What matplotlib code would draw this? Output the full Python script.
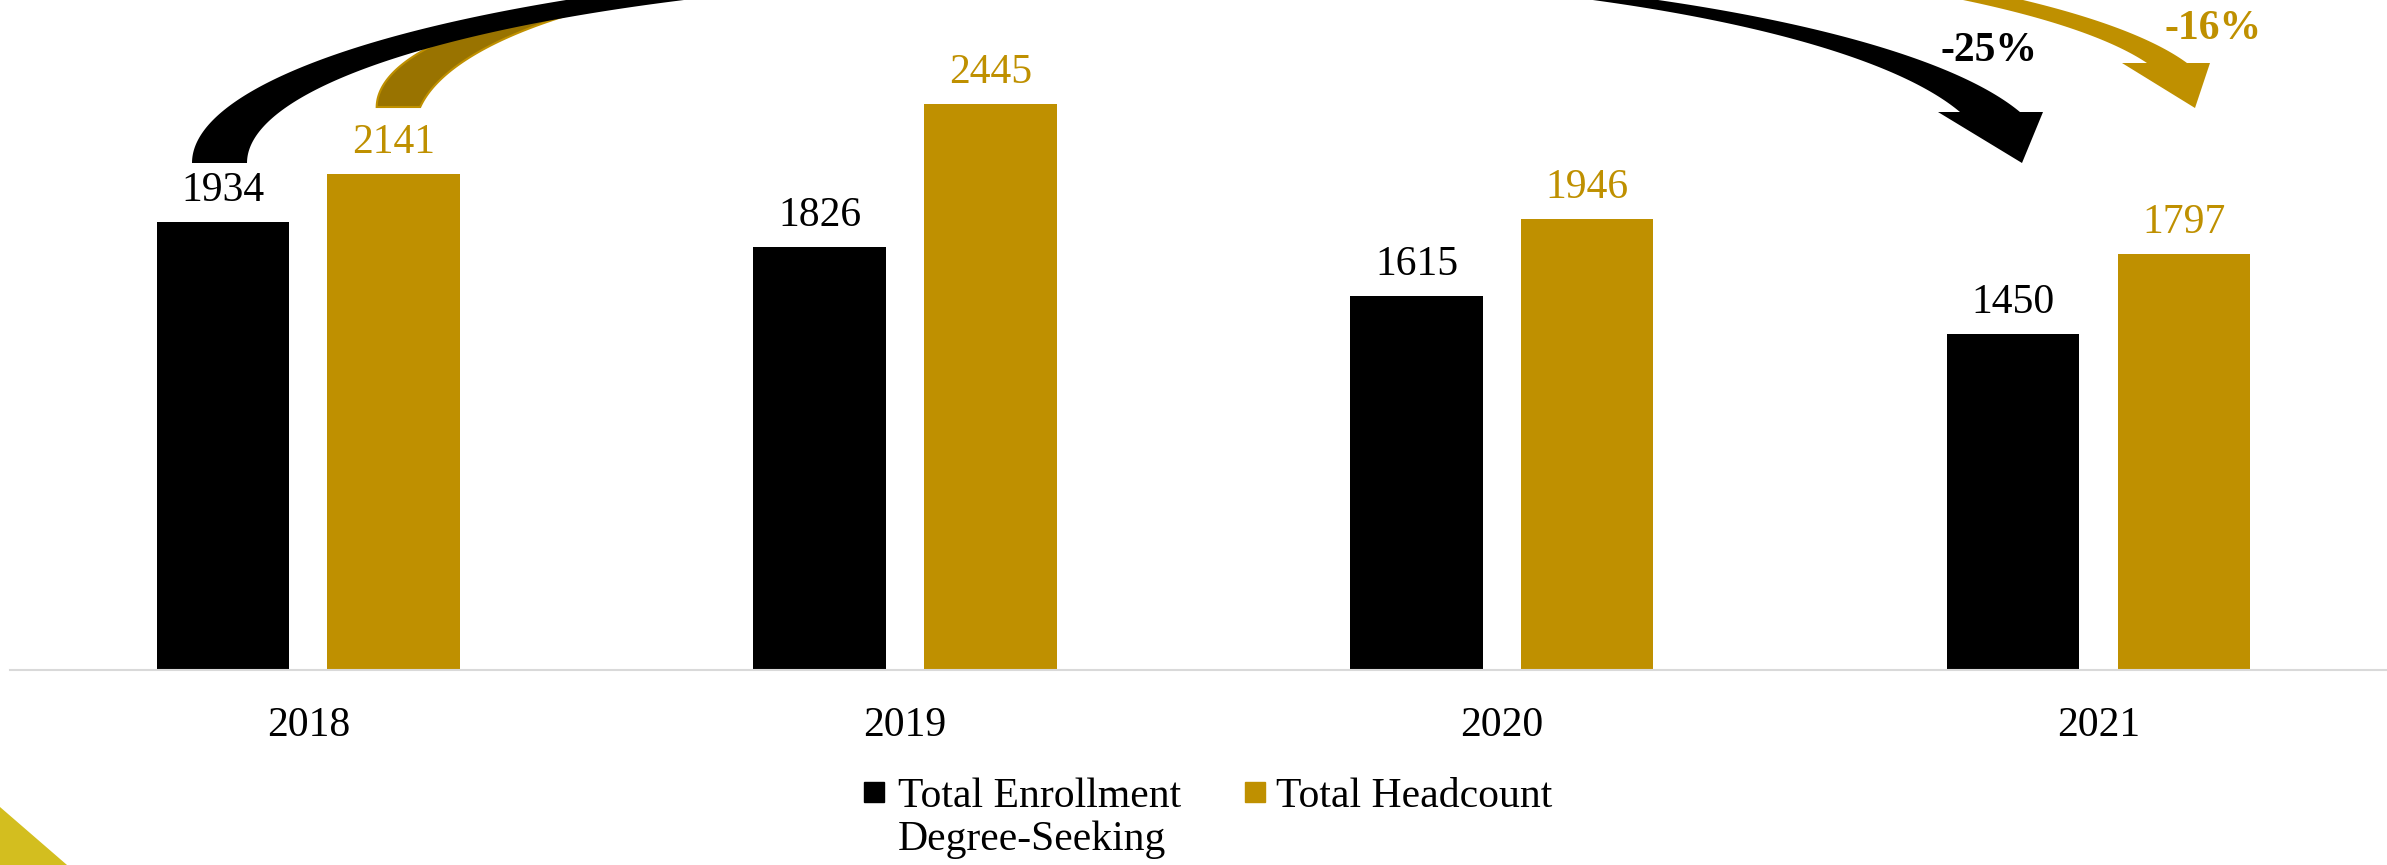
import numpy as np
import matplotlib.pyplot as plt
from matplotlib.patches import Polygon, Rectangle

# Enrollment figures by fall term
years = ['2018', '2019', '2020', '2021']
enrollment = [1934, 1826, 1615, 1450]   # Total Enrollment Degree-Seeking
headcount = [2141, 2445, 1946, 1797]    # Total Headcount

BLACK = '#000000'
GOLD = '#BF9000'
GOLD_DARK = '#997300'
W, H = 2387, 865

plt.rcParams['font.family'] = ['Liberation Serif', 'DejaVu Serif']


def to_fig(pts):
    """pixel coords (y down) -> figure fraction"""
    pts = np.asarray(pts, float)
    return np.column_stack([pts[:, 0] / W, 1 - pts[:, 1] / H])


def arc(cx, cy, a, b, t0, t1, n=150):
    t = np.linspace(t0, t1, n)
    return np.column_stack([cx + a * np.cos(t), cy - b * np.sin(t)])


def rising_leg(outer, inner, y_tail, **kw):
    # tail half of a curved arrow, running off the top of the figure
    def t_at(e):
        return np.pi - np.arcsin(np.clip((e[1] - y_tail) / e[3], -1, 1))
    pts = np.vstack([arc(*outer, t_at(outer), np.pi / 2),
                     arc(*inner, np.pi / 2, t_at(inner))])
    fig.add_artist(Polygon(to_fig(pts), closed=True, transform=fig.transFigure, **kw))


def falling_leg(upper, lower, y_base, head, **kw):
    # head half of a curved arrow, coming back down from above the figure
    def t_at(e):
        return np.arcsin(np.clip((e[1] - y_base) / e[3], -1, 1))
    xl, xr, tip = head
    pts = np.vstack([arc(*upper, np.pi / 2, t_at(upper)),
                     [(xr, y_base), tip, (xl, y_base)],
                     arc(*lower, t_at(lower), np.pi / 2)])
    fig.add_artist(Polygon(to_fig(pts), closed=True, transform=fig.transFigure, **kw))


fig = plt.figure(figsize=(W / 100, H / 100), dpi=100)
ax = fig.add_axes([9.9 / W, 1 - 670 / H, 1.0, 670 / H])

x = np.arange(len(years))
bw, off = 0.222, 0.143
ax.bar(x - off, enrollment, bw, color=BLACK)
ax.bar(x + off, headcount, bw, color=GOLD)

for xi, v in zip(x, enrollment):
    ax.annotate(f'{v}', (xi - off, v), xytext=(0, 15), textcoords='offset points',
                ha='center', va='baseline', fontsize=30, color=BLACK)
for xi, v in zip(x, headcount):
    ax.annotate(f'{v}', (xi + off, v), xytext=(0, 15), textcoords='offset points',
                ha='center', va='baseline', fontsize=30, color=GOLD)

ax.set_xlim(-0.5, 3.5)
ax.set_ylim(0, 2893)
ax.set_xticks(x)
ax.set_xticklabels(years, fontsize=30)
ax.tick_params(axis='x', length=0, pad=26)
ax.set_yticks([])
for side in ['top', 'right', 'left']:
    ax.spines[side].set_visible(False)
ax.spines['bottom'].set_color('#D9D9D9')
ax.spines['bottom'].set_linewidth(1.5)
ax.patch.set_alpha(0)

# curved change arrows, gold one sits behind the black one
rising_leg((700, 107.3, 323.3, 110), (900, 130, 485, 157.6), 107,
           facecolor=GOLD_DARK, edgecolor=GOLD, linewidth=1.5)
falling_leg((1400, 107, 816.3, 165.6), (1400, 107, 779.1, 154.8), 63,
            (2122, 2210, (2195, 108)), facecolor=GOLD, linewidth=0)
rising_leg((1118, 163, 926, 203), (1118, 163, 871, 188), 163,
           facecolor=BLACK, linewidth=0)
falling_leg((1200, 163, 850, 193.5), (1200, 163, 789.6, 187.9), 112,
            (1938, 2043, (2022, 163)), facecolor=BLACK, linewidth=0)

pct_enr = round((enrollment[-1] - enrollment[0]) / enrollment[0] * 100)
pct_head = round((headcount[-1] - headcount[0]) / headcount[0] * 100)
fig.text(1989 / W, 1 - 51 / H, f'{pct_enr}%', ha='center', va='center',
         fontsize=30, fontweight='bold', color=BLACK)
fig.text(2213 / W, 1 - 29 / H, f'{pct_head}%', ha='center', va='center',
         fontsize=30, fontweight='bold', color=GOLD)

# legend
fig.add_artist(Rectangle((864 / W, 1 - 802 / H), 20 / W, 20 / H,
                         color=BLACK, transform=fig.transFigure))
fig.text(898 / W, 1 - 807 / H, 'Total Enrollment', fontsize=30, va='baseline')
fig.text(898 / W, 1 - 850 / H, 'Degree-Seeking', fontsize=30, va='baseline')
fig.add_artist(Rectangle((1245 / W, 1 - 802 / H), 20 / W, 20 / H,
                         color=GOLD, transform=fig.transFigure))
fig.text(1276 / W, 1 - 807 / H, 'Total Headcount', fontsize=30, va='baseline')

# slide corner accent
fig.add_artist(Polygon(to_fig([(0, 807), (67, 865), (0, 865)]), closed=True,
                       transform=fig.transFigure, facecolor='#D3BE1F', linewidth=0))

fig.savefig('out.png', dpi=100)
